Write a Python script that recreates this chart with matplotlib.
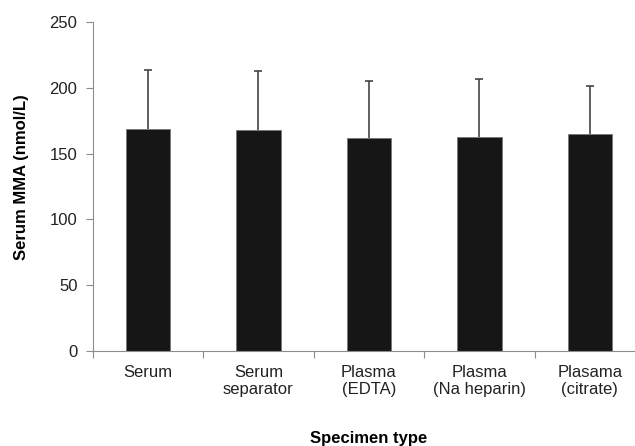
import matplotlib
matplotlib.use("Agg")
from matplotlib import pyplot as plt
import numpy as np

plt.rcParams['font.family'] = ['Liberation Sans', 'DejaVu Sans']

# data
categories = ["Serum", "Serum\nseparator", "Plasma\n(EDTA)", "Plasma\n(Na heparin)", "Plasama\n(citrate)"]
means = [168.6, 168.3, 161.7, 163.0, 165.3]
upper_err = [45.0, 44.6, 43.6, 43.6, 36.0]
yticks = [0, 50, 100, 150, 200, 250]

AXIS_GRAY = "#8c8c8c"

fig = plt.figure(figsize=(6.35, 4.46), dpi=100)
# axes run slightly past the right edge, like the source image (cropped)
ax = fig.add_axes([0.146, 0.2137, 0.870, 0.7363])

x = np.arange(len(categories))
err = [np.zeros(len(upper_err)), upper_err]
ax.bar(x, means, width=0.40, color="#161616", edgecolor="#777777", linewidth=0.6, zorder=2)
eb = ax.errorbar(x, means, yerr=err, fmt="none", ecolor="#444444", elinewidth=1.2,
                 capsize=3, capthick=1.2, zorder=1)
# only the upper caps are shown in the original
for cap in eb[1]:
    if np.allclose(cap.get_ydata(), means):
        cap.set_visible(False)

ax.set_xlim(-0.5, len(categories) - 0.5)
ax.set_ylim(0, 250)
ax.set_yticks(yticks)

# ticks on category boundaries, labels at centres
ax.set_xticks(np.arange(len(categories)) - 0.5)
ax.set_xticklabels([])
ax.set_xticks(x, minor=True)
ax.set_xticklabels(categories, minor=True, fontsize=12, color="#222222", linespacing=1.24)
ax.tick_params(axis="x", which="minor", length=0, pad=10)
ax.tick_params(axis="x", which="major", length=5, color=AXIS_GRAY, width=0.8)
ax.tick_params(axis="y", length=5, color=AXIS_GRAY, width=0.8, labelsize=12,
               labelcolor="#222222", pad=6)

for side in ["top", "right"]:
    ax.spines[side].set_visible(False)
for side in ["left", "bottom"]:
    ax.spines[side].set_color(AXIS_GRAY)
    ax.spines[side].set_linewidth(0.8)

ax.set_ylabel("Serum MMA (nmol/L)", fontsize=12, fontweight="bold")
ax.yaxis.set_label_coords(-0.115, 0.53)
ax.set_xlabel("Specimen type", fontsize=12, fontweight="bold")
ax.xaxis.set_label_coords(0.5, -0.246)

fig.savefig("out.png", dpi=100)
